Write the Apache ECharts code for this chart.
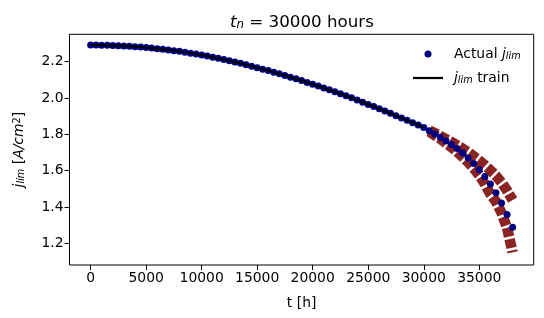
<!DOCTYPE html>
<html>
<head>
<meta charset="utf-8">
<script src="https://cdn.jsdelivr.net/npm/echarts@6/dist/echarts.min.js"></script>
<style>html,body{margin:0;padding:0;background:#fff;}#c{width:544px;height:318px;}</style>
</head>
<body>
<div id="c"></div>
<script>
// ---- data ----
var tActual = [0,500,1000,1500,2000,2500,3000,3500,4000,4500,5000,5500,6000,6500,7000,7500,8000,8500,9000,9500,
  10000,10500,11000,11500,12000,12500,13000,13500,14000,14500,15000,15500,16000,16500,17000,17500,18000,18500,19000,19500,
  20000,20500,21000,21500,22000,22500,23000,23500,24000,24500,25000,25500,26000,26500,27000,27500,28000,28500,29000,29500,
  30000,30500,31000,31500,32000,32500,33000,33500,34000,34500,35000,35500,36000,36500,37000,37500,38000];
var jActual = [2.292,2.292,2.291,2.290,2.289,2.288,2.287,2.285,2.283,2.281,2.278,2.275,2.272,2.268,2.265,2.261,2.257,2.252,2.247,2.242,
  2.237,2.231,2.225,2.219,2.212,2.205,2.198,2.191,2.183,2.175,2.167,2.159,2.151,2.142,2.133,2.124,2.115,2.106,2.096,2.086,
  2.076,2.066,2.055,2.045,2.034,2.023,2.012,2.001,1.989,1.977,1.965,1.953,1.941,1.929,1.916,1.903,1.890,1.877,1.864,1.851,
  1.837,1.820,1.802,1.784,1.764,1.744,1.722,1.697,1.670,1.639,1.605,1.568,1.526,1.478,1.422,1.359,1.288];
var tTrainEnd = 30000;
var tPred = [30500,31000,31500,32000,32500,33000,33500,34000,34500,35000,35500,36000,36500,37000,37500,38000];
var jPredUpper = [1.822,1.806,1.790,1.774,1.757,1.740,1.721,1.701,1.679,1.656,1.630,1.602,1.572,1.535,1.490,1.438];
var jPredLower = [1.815,1.795,1.775,1.752,1.729,1.704,1.676,1.646,1.612,1.575,1.527,1.470,1.430,1.368,1.285,1.150];
var xTicks = [0,5000,10000,15000,20000,25000,30000,35000];
var yTicks = [1.2,1.4,1.6,1.8,2.0,2.2];

// ---- build ----
var actualData = tActual.map(function(t,i){return [t,jActual[i]];});
var trainData = tActual.filter(function(t){return t<=tTrainEnd;}).map(function(t,i){return [t,jActual[i]];});
var predU = tPred.map(function(t,i){return [t,jPredUpper[i]];});
var predL = tPred.map(function(t,i){return [t,jPredLower[i]];});

var FONT = 'DejaVu Sans';
var FS = 13.9;
function makeRich(gap){
  return {
    n:{fontFamily:FONT,fontSize:FS,color:'#000'},
    sp:{width:gap},
    i:{fontFamily:FONT,fontSize:FS,fontStyle:'italic',color:'#000'},
    s:{fontFamily:FONT,fontSize:FS*0.7,fontStyle:'italic',color:'#000',verticalAlign:'bottom',lineHeight:10},
    p:{fontFamily:FONT,fontSize:FS*0.7,color:'#000',verticalAlign:'top',lineHeight:10}
  };
}
var rich = makeRich(0);
var predStyle = {color:'#8a2424',width:10.5,type:[9,2.5],cap:'butt',join:'miter'};

var chart = echarts.init(document.getElementById('c'), null, {renderer:'canvas'});
chart.setOption({
  animation:false,
  backgroundColor:'#fff',
  title:{
    text:'{i|t}{s|n}{n| = 30000 hours}',
    left:297, top:9, textAlign:'center',
    textStyle:{fontWeight:'normal',rich:{
      n:{fontFamily:FONT,fontSize:16.7,color:'#000',fontWeight:'normal'},
      i:{fontFamily:FONT,fontSize:16.7,fontStyle:'italic',color:'#000',fontWeight:'normal'},
      s:{fontFamily:FONT,fontSize:11.7,fontStyle:'italic',color:'#000',verticalAlign:'bottom',lineHeight:12,fontWeight:'normal'}
    }}
  },
  grid:{left:69.5,right:10.3,top:34.3,bottom:53,show:true,borderColor:'#000',borderWidth:1,containLabel:false},
  legend:[
    {data:[{name:'Actual',icon:'circle'}],left:424.5,top:47,padding:0,itemWidth:7,itemHeight:7,
     formatter:function(){return '{sp|}{n|Actual }{i|j}{s|lim}';},
     textStyle:{rich:makeRich(17.5)}},
    {data:[{name:'train',icon:'rect'}],left:413,top:71,padding:0,itemWidth:30,itemHeight:2.2,
     formatter:function(){return '{sp|}{i|j}{s|lim}{n| train}';},
     textStyle:{rich:makeRich(6)}}
  ],
  xAxis:{type:'value',min:-1900,max:39900,
    axisLine:{show:false,onZero:false},splitLine:{show:false},
    axisTick:{show:true,length:5,lineStyle:{color:'#000',width:1},customValues:xTicks},
    axisLabel:{color:'#000',fontFamily:FONT,fontSize:FS,margin:6,customValues:xTicks,
      formatter:function(v){return String(v);}},
    name:'t [h]',nameLocation:'middle',nameGap:31,
    nameTextStyle:{color:'#000',fontFamily:FONT,fontSize:FS}},
  yAxis:{type:'value',min:1.0805,max:2.3509,
    axisLine:{show:false,onZero:false},splitLine:{show:false},
    axisTick:{show:true,length:5,lineStyle:{color:'#000',width:1},customValues:yTicks},
    axisLabel:{color:'#000',fontFamily:FONT,fontSize:FS,margin:6,customValues:yTicks,
      formatter:function(v){return v.toFixed(1);}},
    name:'{i|j}{s|lim}{n| [}{i|A/cm}{p|2}{n|]}',nameLocation:'middle',nameGap:43,nameRotate:90,
    nameTextStyle:{rich:rich}},
  series:[
    {name:'predU',type:'line',data:predU,symbol:'none',showSymbol:false,z:2,lineStyle:predStyle},
    {name:'predL',type:'line',data:predL,symbol:'none',showSymbol:false,z:2,lineStyle:predStyle},
    {name:'Actual',type:'scatter',data:actualData,symbol:'circle',symbolSize:7,z:3,
     itemStyle:{color:'#000080',opacity:1}},
    {name:'train',type:'line',data:trainData,showSymbol:false,symbol:'none',z:4,
     lineStyle:{color:'#000',width:2.2},itemStyle:{color:'#000'}}
  ]
});
</script>
</body>
</html>
